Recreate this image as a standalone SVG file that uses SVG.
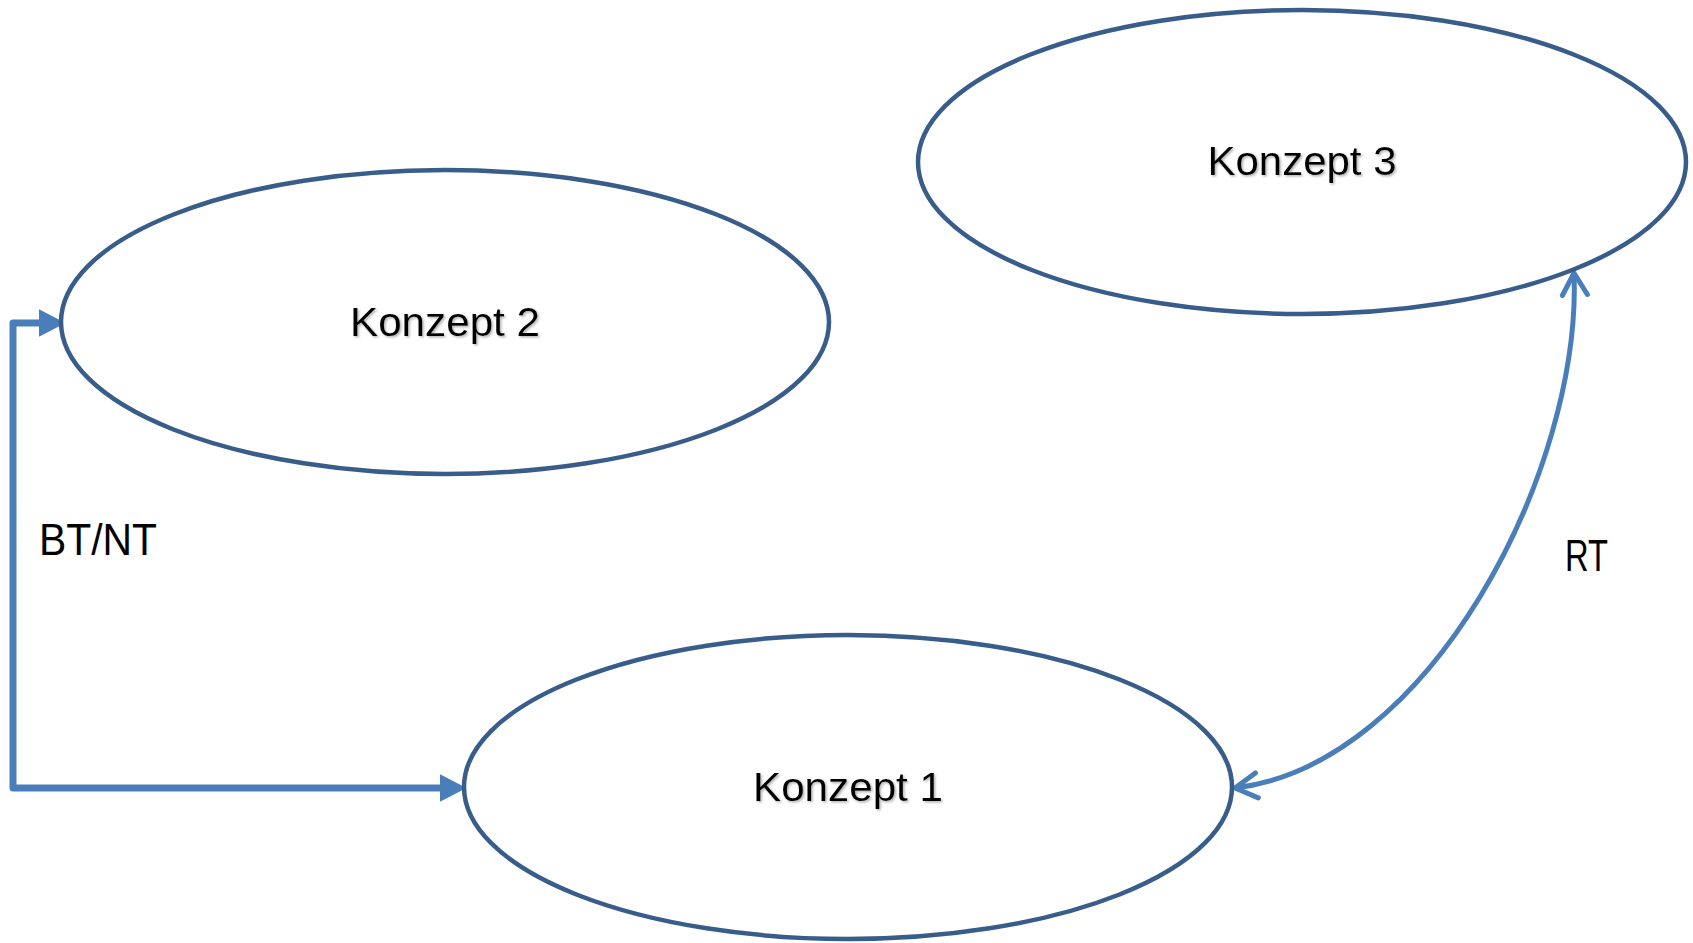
<svg xmlns="http://www.w3.org/2000/svg" width="1693" height="943" viewBox="0 0 1693 943">
  <style>
    .node ellipse { fill: #ffffff; stroke: #385D8A; stroke-width: 4.5; }
    .node text { font-family: "Liberation Sans", Arial, sans-serif; font-size: 40px; fill: #000000; text-anchor: middle; filter: url(#shadow); }
    .conn { fill: none; stroke: #4A7EBB; }
    .label { font-family: "Liberation Sans", Arial, sans-serif; font-size: 44px; fill: #000000; }
  </style>
  <defs>
    <filter id="shadow" x="-10%" y="-30%" width="120%" height="160%">
      <feDropShadow dx="1.5" dy="1.5" stdDeviation="1" flood-color="#808080" flood-opacity="0.6"/>
    </filter>
    <marker id="tri" markerUnits="userSpaceOnUse" markerWidth="30" markerHeight="30" refX="0" refY="0" viewBox="-1 -13 26 26" orient="auto-start-reverse" overflow="visible">
      <path d="M0,-12 L23,0 L0,12 z" fill="#4A7EBB"/>
    </marker>
    <marker id="chev" markerUnits="userSpaceOnUse" markerWidth="30" markerHeight="30" refX="0" refY="0" viewBox="-25 -15 30 30" orient="auto-start-reverse" overflow="visible">
      <path d="M-22,-12.5 L0,0 L-22,12.5" fill="none" stroke="#4A7EBB" stroke-width="5" stroke-linecap="round" stroke-linejoin="round"/>
    </marker>
  </defs>

  <g id="connectors">
    <path id="bt-nt" class="conn" stroke-width="7" stroke-linejoin="round" d="M39,323 H13 V788 H440" marker-start="url(#tri)" marker-end="url(#tri)"/>
    <path id="rt" class="conn" stroke-width="5" d="M1235,788 C1430,765 1582,470 1574,273" marker-start="url(#chev)" marker-end="url(#chev)"/>
    <text class="label" x="39" y="555" textLength="118" lengthAdjust="spacingAndGlyphs">BT/NT</text>
    <text class="label" x="1565" y="571" textLength="43" lengthAdjust="spacingAndGlyphs">RT</text>
  </g>

  <g id="konzept2" class="node">
    <ellipse cx="445" cy="322" rx="384" ry="152"/>
    <text x="445" y="336" textLength="190" lengthAdjust="spacingAndGlyphs">Konzept 2</text>
  </g>
  <g id="konzept3" class="node">
    <ellipse cx="1302" cy="162" rx="384" ry="152"/>
    <text x="1302" y="175" textLength="189" lengthAdjust="spacingAndGlyphs">Konzept 3</text>
  </g>
  <g id="konzept1" class="node">
    <ellipse cx="848" cy="787" rx="384" ry="152"/>
    <text x="848" y="801" textLength="190" lengthAdjust="spacingAndGlyphs">Konzept 1</text>
  </g>
</svg>
